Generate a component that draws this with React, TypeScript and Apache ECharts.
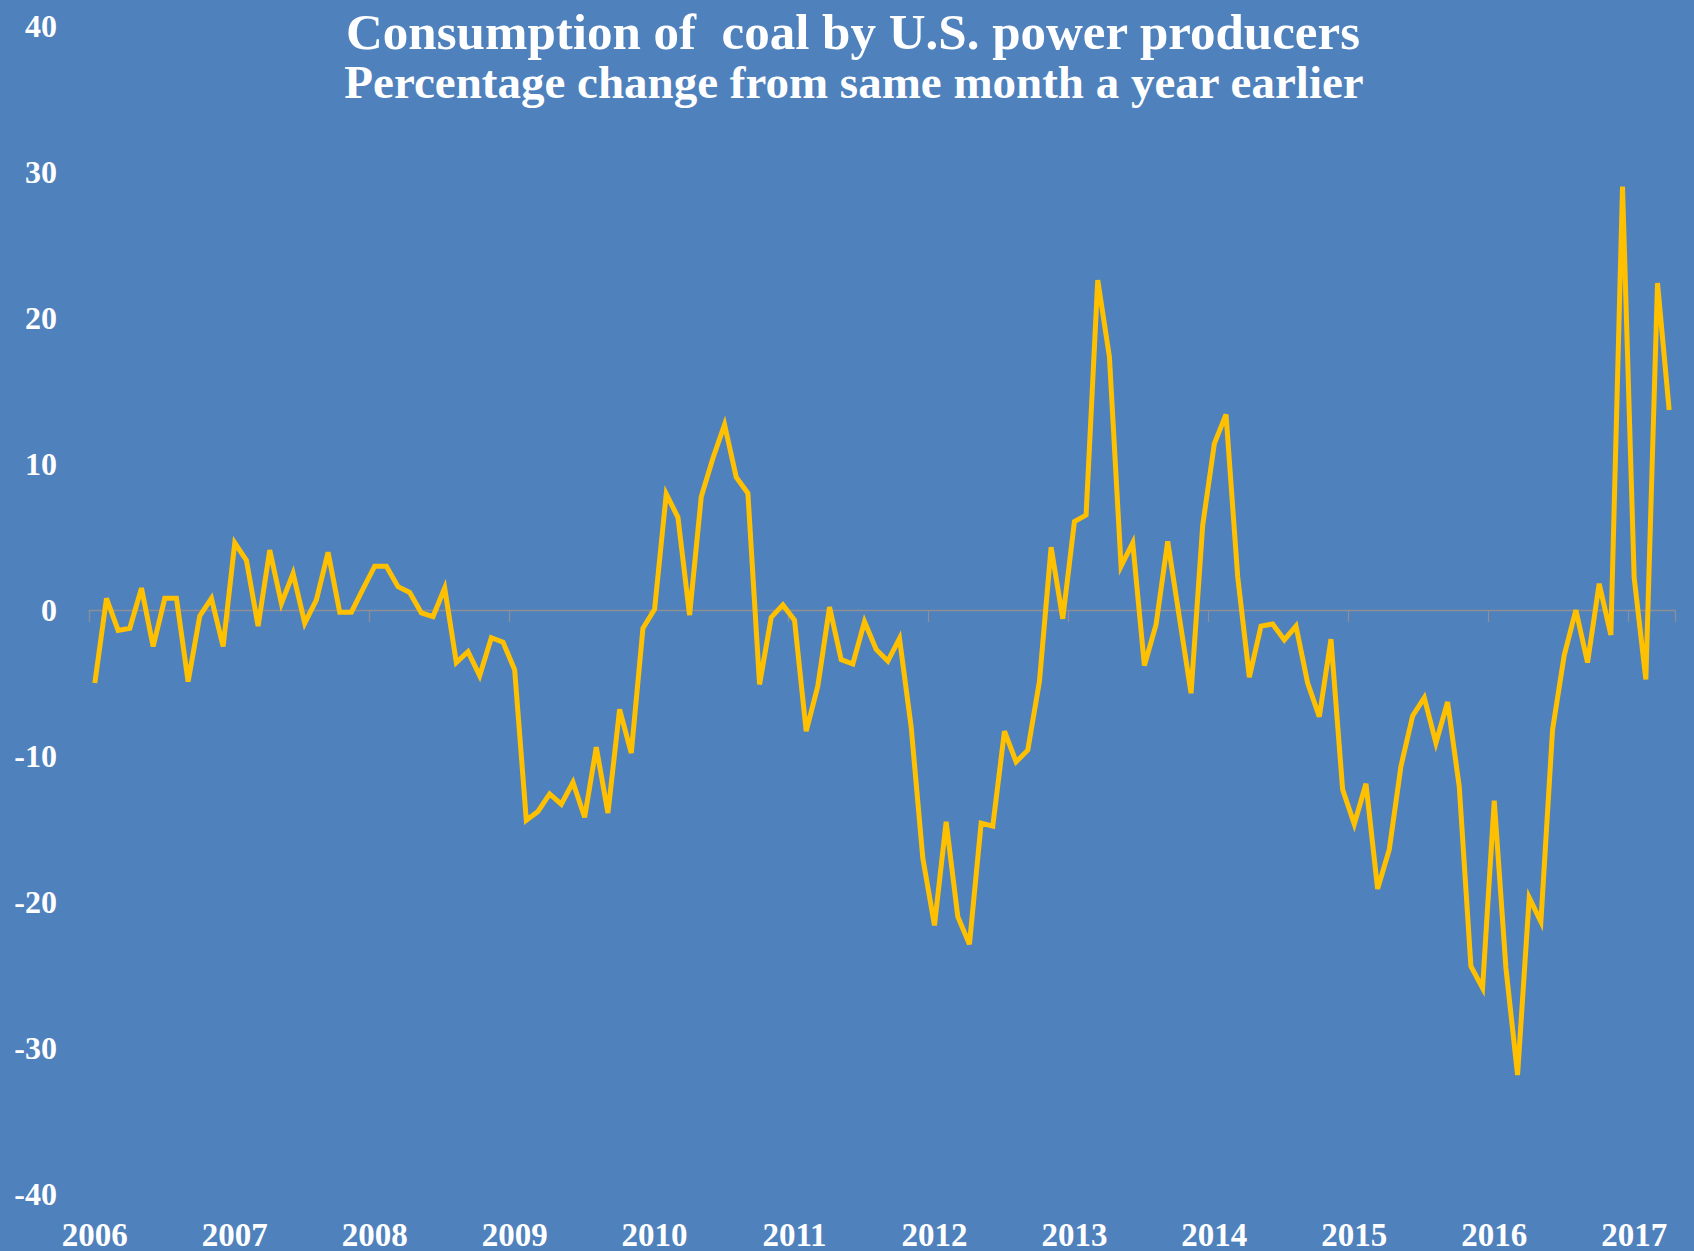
import React, { useEffect, useRef } from "react";
import * as echarts from "echarts";

const years = ["2006", "2007", "2008", "2009", "2010", "2011", "2012", "2013", "2014", "2015", "2016", "2017"];
const monthsInLastYear = 4;

const values2006 = [-5.0, 0.8, -1.4, -1.25, 1.5, -2.5, 0.8, 0.8, -4.9, -0.4, 0.8, -2.5];
const values2007 = [4.6, 3.4, -1.1, 4.1, 0.45, 2.5, -0.9, 0.7, 3.95, -0.15, -0.15, 1.45];
const values2008 = [3.0, 3.0, 1.6, 1.2, -0.2, -0.45, 1.5, -3.6, -2.85, -4.5, -1.9, -2.2];
const values2009 = [-4.1, -14.4, -13.8, -12.6, -13.3, -11.8, -14.2, -9.4, -13.9, -6.8, -9.8, -1.25];
const values2010 = [0.05, 7.95, 6.35, -0.35, 7.75, 10.4, 12.7, 9.1, 8.0, -5.1, -0.5, 0.35];
const values2011 = [-0.7, -8.3, -5.2, 0.2, -3.4, -3.7, -0.8, -2.7, -3.5, -1.95, -8.0, -17.0];
const values2012 = [-21.6, -14.5, -21.0, -22.9, -14.6, -14.8, -8.3, -10.4, -9.6, -4.9, 4.3, -0.6];
const values2013 = [6.05, 6.5, 22.6, 17.35, 3.0, 4.6, -3.8, -1.0, 4.7, -0.5, -5.7, 5.8];
const values2014 = [11.4, 13.4, 2.3, -4.6, -1.1, -0.96, -2.05, -1.1, -5.0, -7.3, -2.0, -12.3];
const values2015 = [-14.66, -11.9, -19.1, -16.4, -10.7, -7.26, -6.0, -9.1, -6.3, -12.1, -24.4, -25.9];
const values2016 = [-13.06, -24.5, -31.85, -19.7, -21.35, -8.2, -3.1, 0.0, -3.6, 1.8, -1.7, 29.0];
const values2017 = [2.2, -4.75, 22.4, 13.7];

const yTicks = [-40, -30, -20, -10, 0, 10, 20, 30, 40];

const titleText = "Consumption of  coal by U.S. power producers";
const subtitleText = "Percentage change from same month a year earlier";

const FONT = "'Liberation Serif', 'DejaVu Serif', serif";

export default function App() {
  const ref = useRef<HTMLDivElement>(null);

  useEffect(() => {
    document.body.style.margin = "0";
    if (!ref.current) return;
    const chart = echarts.init(ref.current, undefined, { renderer: "svg" });

    const values = [
      ...values2006, ...values2007, ...values2008, ...values2009, ...values2010, ...values2011,
      ...values2012, ...values2013, ...values2014, ...values2015, ...values2016, ...values2017,
    ];
    const categories: string[] = [];
    years.forEach((y, yi) => {
      const n = yi === years.length - 1 ? monthsInLastYear : 12;
      for (let m = 1; m <= n; m++) categories.push(`${y}-${String(m).padStart(2, "0")}`);
    });

    chart.setOption({
      animation: false,
      backgroundColor: "#4F81BD",
      title: [
        {
          text: titleText,
          left: 853,
          textAlign: "center",
          top: 6,
          padding: 0,
          textStyle: { color: "#ffffff", fontFamily: FONT, fontWeight: "bold", fontSize: 51, lineHeight: 51 },
        },
        {
          text: subtitleText,
          left: 854,
          textAlign: "center",
          top: 58,
          padding: 0,
          textStyle: { color: "#ffffff", fontFamily: FONT, fontWeight: "bold", fontSize: 47, lineHeight: 47 },
        },
      ],
      grid: { left: 89, right: 19, top: 26, bottom: 57, containLabel: false },
      xAxis: [
        {
          type: "category",
          data: categories,
          boundaryGap: true,
          position: "bottom",
          axisLine: { onZero: true, lineStyle: { color: "#8d8f94", width: 1.3 } },
          axisTick: { show: true, interval: 11, length: 12, lineStyle: { color: "#8d8f94", width: 1.3 } },
          axisLabel: { show: false },
          splitLine: { show: false },
        },
        {
          type: "category",
          data: categories,
          boundaryGap: true,
          position: "bottom",
          axisLine: { show: false, onZero: false },
          axisTick: { show: false },
          axisLabel: {
            show: true,
            interval: 11,
            margin: 24,
            color: "#ffffff",
            fontFamily: FONT,
            fontWeight: "bold",
            fontSize: 33,
            formatter: (v: string) => v.slice(0, 4),
          },
          splitLine: { show: false },
        },
      ],
      yAxis: {
        type: "value",
        min: yTicks[0],
        max: yTicks[yTicks.length - 1],
        interval: 10,
        axisLine: { show: false },
        axisTick: { show: false },
        splitLine: { show: false },
        axisLabel: {
          margin: 32,
          color: "#ffffff",
          fontFamily: FONT,
          fontWeight: "bold",
          fontSize: 32,
        },
      },
      series: [
        {
          type: "line",
          xAxisIndex: 0,
          data: values,
          symbol: "none",
          lineStyle: { color: "#FFC000", width: 5, join: "miter" },
          itemStyle: { color: "#FFC000" },
        },
      ],
    });

    return () => chart.dispose();
  }, []);

  return (
    <div
      ref={ref}
      style={{ position: "absolute", left: 0, top: 0, width: "1694px", height: "1251px" }}
    />
  );
}
